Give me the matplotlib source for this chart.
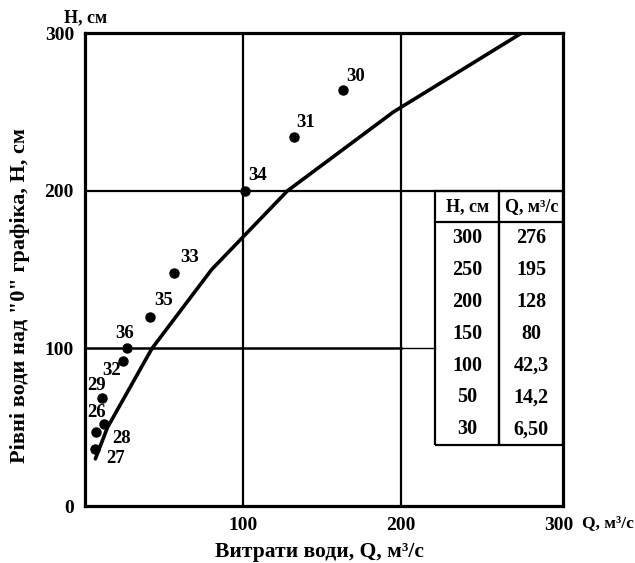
import matplotlib
matplotlib.use('AGG')
import matplotlib.pyplot as plt

# rating curve from the table
table_h = [300, 250, 200, 150, 100, 50, 30]
table_q = ['276', '195', '128', '80', '42,3', '14,2', '6,50']
curve_q = [6.5, 14.2, 42.3, 80, 128, 195, 276]
curve_h = [30, 50, 100, 150, 200, 250, 300]

# measured points
point_ids = ['30', '31', '34', '33', '35', '36', '32', '29', '28', '26', '27']
point_q = [163, 132, 101, 56, 41, 26.5, 24, 11, 12, 7, 6]
point_h = [264, 234, 200, 148, 120, 100, 92, 68.5, 52, 47, 36]

# label offsets in pixels (dx, dy)
label_off = [(4, 13), (3, 15), (4, 15), (7, 15), (4, 16), (-12, 15),
             (-21, -9), (-15, 13), (8, -14), (-9, 20), (12, -9)]

plt.rcParams['font.family'] = ['Liberation Serif', 'DejaVu Serif']
plt.rcParams['font.weight'] = 'bold'

fig = plt.figure(figsize=(6.35, 5.63), dpi=100)
ax = fig.add_axes([0.134, 0.101, 0.753, 0.840])
ax.set_xlim(0, 302.5)
ax.set_ylim(0, 300)

for s in ax.spines.values():
    s.set_linewidth(2.3)

tbl_left = (435 - 85) / 478.0

ax.axvline(100, color='black', lw=1.6)
ax.axvline(200, color='black', lw=1.6)
ax.axhline(200, color='black', lw=1.6)
ax.axhline(100, xmin=0, xmax=200 / 302.5, color='black', lw=1.8)
ax.axhline(100, xmin=200 / 302.5, xmax=tbl_left, color='black', lw=1.0)

ax.plot(curve_q, curve_h, color='black', lw=2.6, solid_capstyle='round',
        solid_joinstyle='round')
ax.plot(point_q, point_h, 'o', color='black', ms=6.5)

for pid, q, h, off in zip(point_ids, point_q, point_h, label_off):
    ax.annotate(pid, (q, h), xytext=off, textcoords='offset pixels',
                ha='left', va='center', fontsize=13.5, fontweight='bold')

ax.set_xticks([100, 200, 300])
ax.set_yticks([0, 100, 200, 300])
ax.tick_params(length=0, labelsize=14, pad=8)
for lab in ax.get_xticklabels() + ax.get_yticklabels():
    lab.set_fontweight('bold')

ax.text(0.0, 1.032, 'Н, см', transform=ax.transAxes, ha='center', va='center',
        fontsize=13, fontweight='bold')
ax.text(1.04, -0.035, 'Q, м³/с', transform=ax.transAxes, ha='left', va='center',
        fontsize=12.5, fontweight='bold')
ax.set_xlabel('Витрати води, Q, м³/с', fontsize=15.5, fontweight='bold')
ax.xaxis.set_label_coords(0.49, -0.097)
ax.xaxis.label.set_va('center')
ax.set_ylabel('Рівні води над "0" графіка, Н, см', fontsize=16, fontweight='bold')
ax.yaxis.set_label_coords(-0.136, 0.446)
ax.yaxis.label.set_va('center')

# table
cells = [[str(h), q] for h, q in zip(table_h, table_q)]
tb = ax.table(cellText=cells, colLabels=['Н, см', 'Q, м³/с'],
              bbox=[tbl_left, 0.129, 1 - tbl_left, 0.666 - 0.129],
              cellLoc='center', edges='closed')
tb.auto_set_font_size(False)
nrows = len(cells)
for (r, c), cell in tb.get_celld().items():
    cell.set_linewidth(1.6)
    cell.set_facecolor('white')
    cell.get_text().set_fontweight('bold')
    if r == 0:
        cell.get_text().set_fontsize(13)
        cell.visible_edges = 'closed'
        cell.set_height(0.122)
    else:
        cell.get_text().set_fontsize(14.5)
        cell.visible_edges = 'BLR' if r == nrows else 'LR'
        cell.set_height(0.125)

fig.savefig('out.png', dpi=100)
